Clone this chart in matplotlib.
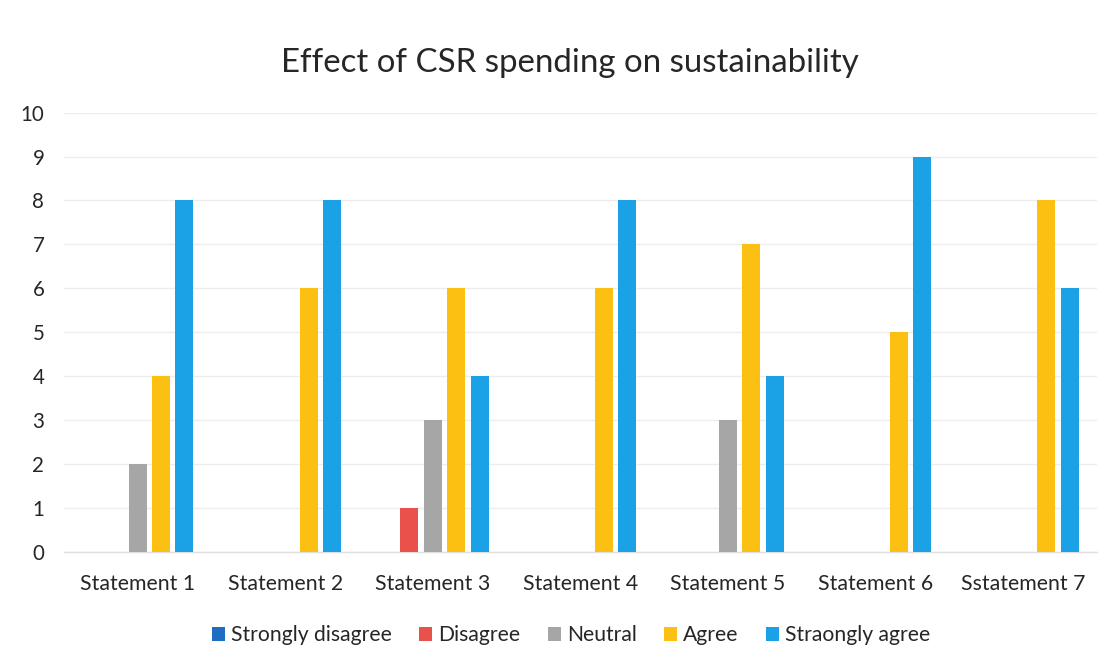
import matplotlib
matplotlib.use("Agg")
import matplotlib.pyplot as plt
import numpy as np

categories = ["Statement 1", "Statement 2", "Statement 3", "Statement 4",
              "Statement 5", "Statement 6", "Sstatement 7"]
series_names = ["Strongly disagree", "Disagree", "Neutral", "Agree", "Straongly agree"]
strongly_disagree = [0, 0, 0, 0, 0, 0, 0]
disagree = [0, 0, 1, 0, 0, 0, 0]
neutral = [2, 0, 3, 0, 3, 0, 0]
agree = [4, 6, 6, 6, 7, 5, 8]
strongly_agree = [8, 8, 4, 8, 4, 9, 6]
y_ticks = list(range(0, 11))

colors = ["#1F6DC2", "#E8524A", "#A6A6A6", "#FBC012", "#1BA1E6"]
series = [strongly_disagree, disagree, neutral, agree, strongly_agree]

plt.rcParams['font.family'] = ['Lato', 'DejaVu Sans']

fig = plt.figure(figsize=(11.18, 6.66), dpi=100)
ax = fig.add_axes([0.057, 0.1716, 0.924, 0.6592])

x = np.arange(len(categories))
step = 0.159
width = 0.122
for i, (vals, name, col) in enumerate(zip(series, series_names, colors)):
    ax.bar(x + (i - 2) * step, vals, width=width, color=col, label=name, zorder=3)

ax.set_xlim(-0.5, len(categories) - 0.5)
ax.set_ylim(0, 10)
ax.set_yticks(y_ticks)
ax.set_xticks(x)
ax.set_xticklabels(categories, fontsize=15.3, color="#262626")
ax.tick_params(axis='y', labelsize=14.8, labelcolor="#262626", length=0, pad=14)
ax.tick_params(axis='x', length=0, pad=16)
ax.grid(axis='y', color="#EDEDED", linewidth=1.0, zorder=0)
for s in ["top", "right", "left"]:
    ax.spines[s].set_visible(False)
ax.spines["bottom"].set_color("#E0E0E0")
ax.spines["bottom"].set_linewidth(1.0)

fig.text(0.510, 0.906, "Effect of CSR spending on sustainability",
         ha="center", va="center", fontsize=23.8, color="#262626")

leg = fig.legend(loc="center", bbox_to_anchor=(0.511, 0.046), ncol=5, frameon=False,
                 fontsize=15.2, handlelength=0.6, handleheight=0.6,
                 handletextpad=0.3, columnspacing=1.3)
for t in leg.get_texts():
    t.set_color("#262626")

fig.savefig("out.png", dpi=100, facecolor="white")
